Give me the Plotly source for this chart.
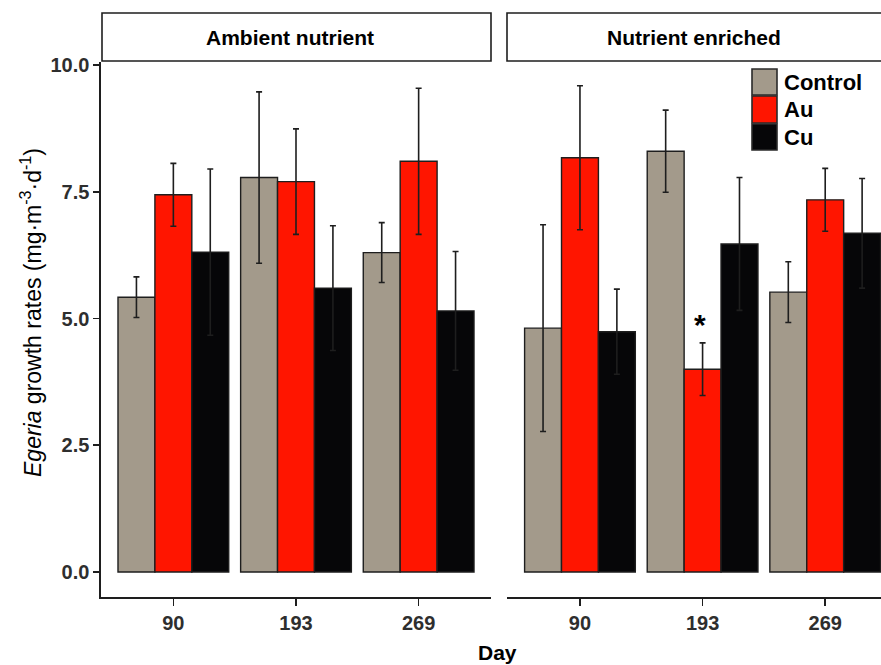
import plotly.graph_objects as go

# ---------------- data ----------------
days = ["90", "193", "269"]
treatments = ["Control", "Au", "Cu"]
colors = {"Control": "#a39a8b", "Au": "#ff1500", "Cu": "#060608"}

# Ambient nutrient panel
amb_control = [5.42, 7.78, 6.30]
amb_control_err = [0.40, 1.69, 0.59]
amb_au = [7.44, 7.70, 8.10]
amb_au_err = [0.62, 1.04, 1.44]
amb_cu = [6.31, 5.60, 5.15]
amb_cu_err = [1.64, 1.23, 1.17]

# Nutrient enriched panel
enr_control = [4.81, 8.30, 5.52]
enr_control_err = [2.04, 0.81, 0.60]
enr_au = [8.17, 4.00, 7.34]
enr_au_err = [1.42, 0.52, 0.62]
enr_cu = [4.74, 6.47, 6.68]
enr_cu_err = [0.84, 1.31, 1.08]

panel_titles = ["Ambient nutrient", "Nutrient enriched"]
y_ticks = [0.0, 2.5, 5.0, 7.5, 10.0]

# ---------------- layout geometry (pixels) ----------------
W, H = 881, 665
ML, MR, MT, MB = 101, 0, 62, 68
PW = W - ML - MR
PH = H - MT - MB


def px2x(px):
    return (px - ML) / PW


def py2y(py):
    return (H - MB - py) / PH


FONT = "Liberation Sans, Arial, Helvetica, sans-serif"
DARK = "#1e1e1e"

fig = go.Figure()

panels = [
    ("x", "y", [(amb_control, amb_control_err), (amb_au, amb_au_err), (amb_cu, amb_cu_err)]),
    ("x2", "y2", [(enr_control, enr_control_err), (enr_au, enr_au_err), (enr_cu, enr_cu_err)]),
]

for xa, ya, series in panels:
    for name, (vals, errs) in zip(treatments, series):
        fig.add_trace(go.Bar(
            x=days, y=vals, name=name, xaxis=xa, yaxis=ya,
            offsetgroup=name, showlegend=False,
            marker=dict(color=colors[name], line=dict(color=DARK, width=1.4)),
            error_y=dict(type="data", array=errs, visible=True,
                         color=DARK, thickness=1.6, width=3),
        ))

tick_font = dict(family=FONT, size=20, color="#2e2e2e", weight="bold")

axis_common = dict(
    type="category", categoryorder="array", categoryarray=days,
    showline=True, linecolor=DARK, linewidth=1.6,
    ticks="outside", ticklen=7, tickwidth=1.6, tickcolor=DARK,
    tickfont=tick_font,
    showgrid=False, zeroline=False, fixedrange=True,
)

y_range = [-0.493, 10.059]

fig.update_layout(
    width=W, height=H,
    margin=dict(l=ML, r=MR, t=MT, b=MB),
    paper_bgcolor="white", plot_bgcolor="white",
    barmode="group", bargap=0.097, bargroupgap=0.0,
    showlegend=False,
    xaxis=dict(domain=[0, px2x(491)], range=[-0.59, 2.59], **axis_common),
    xaxis2=dict(domain=[px2x(507), 1], range=[-0.595, 2.455], anchor="y2", **axis_common),
    yaxis=dict(range=y_range, tickvals=y_ticks, ticktext=[f"{v:.1f}" for v in y_ticks],
               showline=True, linecolor=DARK, linewidth=1.6,
               ticks="outside", ticklen=6, tickwidth=1.6, tickcolor=DARK,
               tickfont=tick_font,
               showgrid=False, zeroline=False, fixedrange=True),
    yaxis2=dict(range=y_range, anchor="x2", matches="y", showticklabels=False,
                showline=False, ticks="", showgrid=False, zeroline=False, fixedrange=True),
)

shapes = []
annotations = []

# strip boxes
strips = [(102, 491, 290), (507, 905, 694)]
for (x0, x1, xc), title in zip(strips, panel_titles):
    shapes.append(dict(type="rect", xref="paper", yref="paper",
                       x0=px2x(x0), x1=px2x(x1), y0=py2y(61), y1=py2y(13),
                       line=dict(color=DARK, width=1.6), fillcolor="white", layer="above"))
    annotations.append(dict(text=title, xref="paper", yref="paper",
                            x=px2x(xc), y=py2y(37), xanchor="center", yanchor="middle",
                            showarrow=False,
                            font=dict(family=FONT, size=21, color="black", weight="bold")))

# legend (drawn manually to reproduce the large key squares)
leg_rows = [(69, 95), (96, 123), (124, 150)]
for name, (t, b) in zip(treatments, leg_rows):
    shapes.append(dict(type="rect", xref="paper", yref="paper",
                       x0=px2x(752), x1=px2x(777), y0=py2y(b), y1=py2y(t),
                       line=dict(color="#2a2a2a", width=1.6), fillcolor=colors[name], layer="above"))
    annotations.append(dict(text=name, xref="paper", yref="paper",
                            x=px2x(782), y=py2y((t + b) / 2), xanchor="left", yanchor="middle",
                            showarrow=False,
                            font=dict(family=FONT, size=22, color="black", weight="bold")))

# significance asterisk above enriched Au at day 193 (category index 1)
annotations.append(dict(text="*", xref="x2", yref="y2", x=1,
                        y=enr_au[1] + enr_au_err[1],
                        xshift=-3, xanchor="center", yanchor="bottom", showarrow=False,
                        font=dict(family=FONT, size=30, color="black", weight="bold")))

# axis titles
annotations.append(dict(text="<i>Egeria</i> growth rates (mg·m<sup>-3</sup>·d<sup>-1</sup>)",
                        xref="paper", yref="paper", x=px2x(31), y=py2y(313),
                        xanchor="center", yanchor="middle", textangle=-90, showarrow=False,
                        font=dict(family=FONT, size=23, color="black")))
annotations.append(dict(text="Day", xref="paper", yref="paper", x=px2x(497), y=py2y(652),
                        xanchor="center", yanchor="middle", showarrow=False,
                        font=dict(family=FONT, size=21, color="black", weight="bold")))

fig.update_layout(shapes=shapes, annotations=annotations)

fig.write_html(
    "out.html",
    config={"displayModeBar": False, "staticPlot": True},
    post_script="document.body.style.margin='0';document.body.style.overflow='hidden';",
)
